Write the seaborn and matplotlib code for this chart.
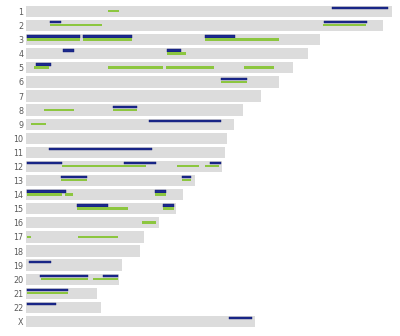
import matplotlib
matplotlib.use("Agg")
import matplotlib.pyplot as plt
import seaborn as sns
import pandas as pd

chroms = [str(i) for i in range(1, 23)] + ["X"]
lengths = [249, 243, 200, 192, 181.5, 172, 160, 147.5, 141.5, 136.5, 135.5, 133.5,
           115, 107, 102, 90.5, 80, 77.5, 65, 63.5, 48, 51, 155.5]

blue_chrom = ["1", "2", "2", "3", "3", "3", "4", "4", "5", "6", "8", "9", "11",
              "12", "12", "12", "13", "13", "14", "14", "15", "15", "19", "20", "20",
              "21", "22", "X"]
blue_start = [208, 16.5, 203, 0.5, 38.5, 122, 25.5, 96, 6.5, 132.5, 59, 83.5, 15.5,
              0.5, 66.5, 125, 23.5, 106, 0.5, 87.5, 34.5, 93.5, 2, 9.5, 52.5,
              0.5, 0.5, 138]
blue_end = [246, 24, 232, 36.5, 72, 142.5, 32.5, 105.5, 17, 150, 75.5, 132.5, 85.5,
            24.5, 88.5, 132.5, 41.5, 112.5, 27, 95.5, 55.5, 100.5, 17, 42.5, 62.5,
            28.5, 20.5, 153.5]

green_chrom = ["1", "2", "2", "3", "3", "3", "4", "5", "5", "5", "5", "6", "8", "8",
               "9", "12", "12", "12", "13", "13", "14", "14", "14", "15", "15", "16",
               "17", "17", "20", "20", "21"]
green_start = [55.5, 16.5, 202, 0.5, 38.5, 122, 96, 5.5, 55.5, 95, 148, 132.5, 12.5, 59,
               3.5, 24.5, 103, 122, 23.5, 106, 0.5, 26.5, 87.5, 34.5, 93.5, 79,
               0.5, 35.5, 10, 45.5, 0.5]
green_end = [63.5, 51.5, 231, 36.5, 72, 172, 108.5, 15.5, 93.5, 128, 169, 150, 32.5, 75.5,
             13.5, 81.5, 117.5, 131, 41.5, 112.5, 24.5, 32, 95.5, 69.5, 100.5, 88.5,
             3.5, 62.5, 42.5, 62.5, 28.5]

sns.set_style("white")
fig = plt.figure(figsize=(4.0, 3.36), dpi=100)
ax = fig.add_axes([0.065, 0.0222, 0.935, 0.9646])

df = pd.DataFrame({"chrom": chroms, "length": lengths})
sns.barplot(data=df, x="length", y="chrom", order=chroms, color="#dcdcdc",
            saturation=1, width=0.80, ax=ax, linewidth=0)

pos = {c: i for i, c in enumerate(chroms)}
bh = 0.16
for c, s, e in zip(blue_chrom, blue_start, blue_end):
    ax.barh(pos[c] - 0.23, e - s, left=s, height=bh, color="#1c2a8c",
            edgecolor="#0a1570", linewidth=0.3)
for c, s, e in zip(green_chrom, green_start, green_end):
    ax.barh(pos[c] - 0.02, e - s, left=s, height=bh, color="#8cc63f", linewidth=0)

ax.set_xlim(0, 254.4)
ax.set_ylim(22.5, -0.5)
ax.set_xlabel("")
ax.set_ylabel("")
ax.set_xticks([])
ax.tick_params(axis="y", length=0, pad=1.8, labelsize=5.8, labelcolor="#5a5a5a")
for sp in ax.spines.values():
    sp.set_visible(False)

fig.savefig("out.png", dpi=100)
